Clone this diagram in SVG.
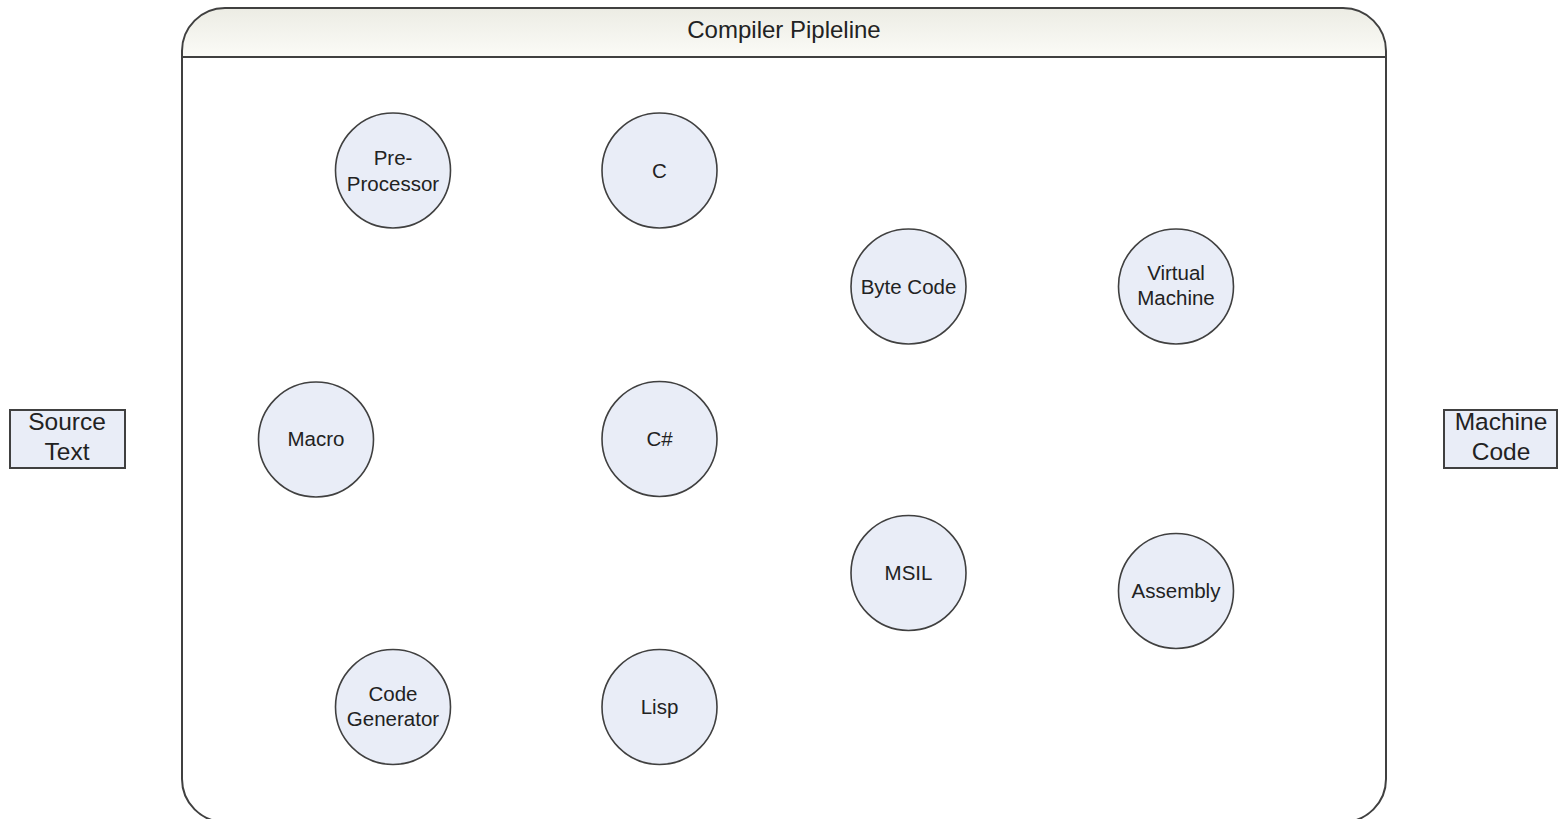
<svg xmlns="http://www.w3.org/2000/svg" width="1558" height="819" viewBox="0 0 1558 819">
<defs>
<linearGradient id="hdr" x1="0" y1="0" x2="0" y2="1">
<stop offset="0" stop-color="#ecece4"/>
<stop offset="1" stop-color="#fbfbf7"/>
</linearGradient>
<style>
.c{fill:#e9edf7;stroke:#404040;stroke-width:1.6}
.b{fill:#e9edf7;stroke:#404040;stroke-width:2}
.t{font-family:"Liberation Sans",Arial,sans-serif;font-size:20.5px;fill:#222;text-anchor:middle}
.tb{font-family:"Liberation Sans",Arial,sans-serif;font-size:24.5px;fill:#222;text-anchor:middle}
.frame{fill:none;stroke:#404040;stroke-width:2}
</style>
</defs>
<rect width="1558" height="819" fill="#fff"/>
<g id="pipeline">
<rect x="182" y="8" width="1204" height="814" rx="43" ry="43" fill="#fff"/>
<path d="M182,57 V51 A43,43 0 0 1 225,8 H1343 A43,43 0 0 1 1386,51 V57 Z" fill="url(#hdr)"/>
<rect class="frame" x="182" y="8" width="1204" height="814" rx="43" ry="43"/>
<line class="frame" x1="182" y1="57" x2="1386" y2="57"/>
<text class="t" x="784" y="38" style="font-size:24px">Compiler Pipleline</text>
</g>
<g id="connectors"/>
<g id="source-text">
<rect class="b" x="10" y="410" width="115" height="58"/>
<text class="tb" x="67" y="430">Source</text>
<text class="tb" x="67" y="460">Text</text>
</g>
<g id="machine-code">
<rect class="b" x="1444" y="410" width="113" height="58"/>
<text class="tb" x="1501" y="430">Machine</text>
<text class="tb" x="1501" y="460">Code</text>
</g>
<g id="pre-processor">
<circle class="c" cx="393" cy="170.5" r="57.5"/>
<text class="t" x="393" y="165">Pre-</text>
<text class="t" x="393" y="191">Processor</text>
</g>
<g id="c">
<circle class="c" cx="659.5" cy="170.5" r="57.5"/>
<text class="t" x="659.5" y="177.5">C</text>
</g>
<g id="byte-code">
<circle class="c" cx="908.5" cy="286.5" r="57.5"/>
<text class="t" x="908.5" y="293.5">Byte Code</text>
</g>
<g id="virtual-machine">
<circle class="c" cx="1176" cy="286.5" r="57.5"/>
<text class="t" x="1176" y="280">Virtual</text>
<text class="t" x="1176" y="305">Machine</text>
</g>
<g id="macro">
<circle class="c" cx="316" cy="439.5" r="57.5"/>
<text class="t" x="316" y="446">Macro</text>
</g>
<g id="c-sharp">
<circle class="c" cx="659.5" cy="439" r="57.5"/>
<text class="t" x="659.5" y="446">C#</text>
</g>
<g id="msil">
<circle class="c" cx="908.5" cy="573" r="57.5"/>
<text class="t" x="908.5" y="580">MSIL</text>
</g>
<g id="assembly">
<circle class="c" cx="1176" cy="591" r="57.5"/>
<text class="t" x="1176" y="598">Assembly</text>
</g>
<g id="code-generator">
<circle class="c" cx="393" cy="707" r="57.5"/>
<text class="t" x="393" y="701">Code</text>
<text class="t" x="393" y="726">Generator</text>
</g>
<g id="lisp">
<circle class="c" cx="659.5" cy="707" r="57.5"/>
<text class="t" x="659.5" y="714">Lisp</text>
</g>
</svg>
